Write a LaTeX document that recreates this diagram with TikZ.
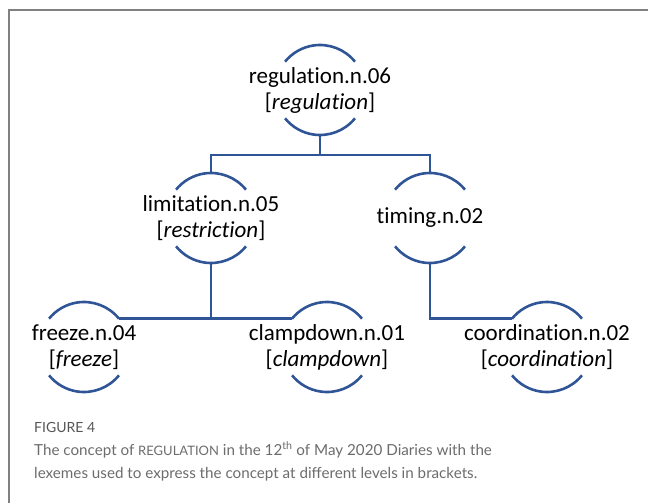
\documentclass[tikz,border=0pt]{standalone}
\usepackage{fontspec}
\setmainfont{Carlito}[Ligatures=NoCommon]
\newfontfamily\capfont{Lato}
\usepackage{tikz}
\usetikzlibrary{positioning}
\definecolor{treeB}{RGB}{47,85,151}
\definecolor{frameG}{RGB}{128,128,128}
\definecolor{capG}{RGB}{108,108,108}
\newcommand{\lexarcs}[1]{\draw[arc] (#1.39) arc[start angle=39,end angle=141,radius=45pt]
  (#1.-39) arc[start angle=-39,end angle=-141,radius=45pt];}

\begin{document}
\begin{tikzpicture}[x=1pt, y=1pt,
  lex/.style={circle, minimum size=90pt, inner sep=0pt, outer sep=0pt},
  txt/.style={align=center, inner sep=0pt, font=\fontsize{23}{26}\selectfont},
  arc/.style={draw=treeB, line width=2.6pt},
  link/.style={draw=treeB, line width=2.6pt},
  capline/.style={anchor=base west, inner sep=0pt, text=capG, font=\capfont\fontsize{15.2}{23}\selectfont}]
  \useasboundingbox (0,0) rectangle (648,-503);
  \draw[frameG, line width=1.5pt] (9,-503) -- (9,-10) -- (648,-10);
  \node[lex, label={[txt]center:regulation.n.06\\ {[}\textit{regulation}{]}}] (reg) at (320,-90) {};
  \node[lex, label={[txt]center:limitation.n.05\\ {[}\textit{restriction}{]}}] (lim) at (211,-218) {};
  \node[lex, label={[txt]center:timing.n.02}] (tim) at (430,-218) {};
  \node[lex, label={[txt]center:freeze.n.04\\ {[}\textit{freeze}{]}}] (frz) at (84,-347) {};
  \node[lex, label={[txt]center:clampdown.n.01\\ {[}\textit{clampdown}{]}}] (clp) at (327,-347) {};
  \node[lex, label={[txt]center:coordination.n.02\\ {[}\textit{coordination}{]}}] (crd) at (547,-347) {};
  \lexarcs{reg} \lexarcs{lim} \lexarcs{tim}
  \lexarcs{frz} \lexarcs{clp} \lexarcs{crd}
  \draw[link] (reg.south) -- ++(0,-20) -| (lim.north);
  \draw[link] (reg.south) -- ++(0,-20) -| (tim.north);
  \draw[link] (lim.south) |- (frz.39);
  \draw[link] (lim.south) |- (clp.141);
  \draw[link] (tim.south) |- (crd.141);
  % caption
  \node[capline, text=capG!80!black, font=\capfont\fontsize{14}{16}\selectfont] (fig) at (34,-432) {FIGURE 4};
  \node[capline] (cap1) at (34,-455) {The concept of {\fontsize{13}{23}\selectfont REGULATION} in the 12\textsuperscript{th} of May 2020 Diaries with the};
  \node[capline] (cap2) at (34,-478) {lexemes used to express the concept at different levels in brackets.};
\end{tikzpicture}
\end{document}
